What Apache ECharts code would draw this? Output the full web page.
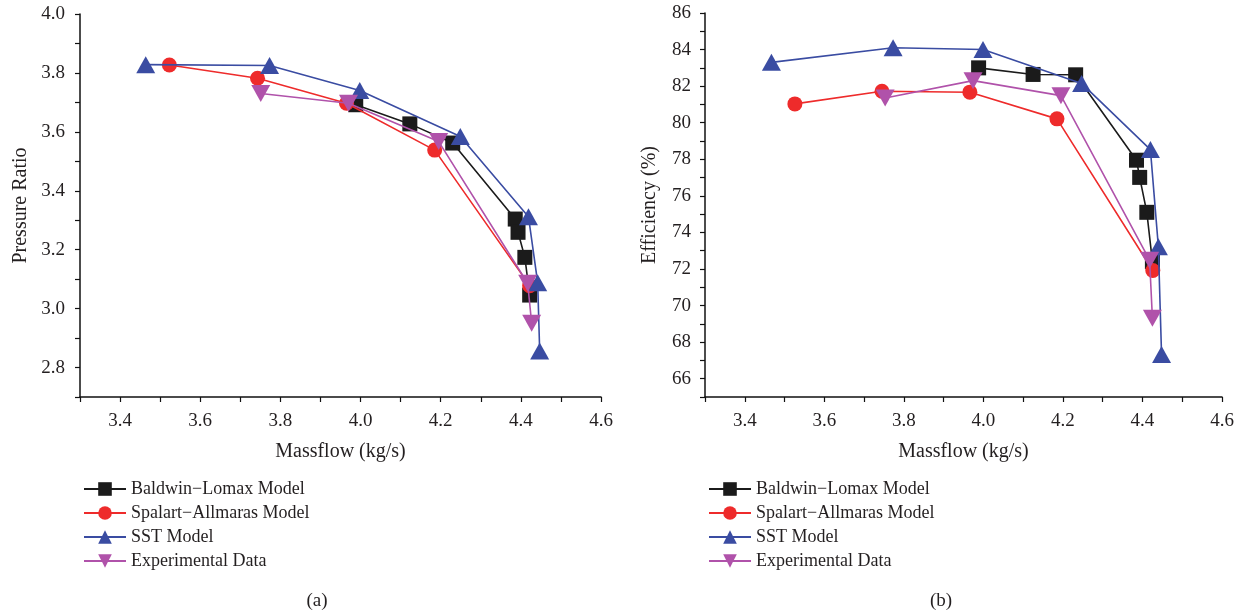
<!DOCTYPE html>
<html>
<head>
<meta charset="utf-8">
<script src="https://cdn.jsdelivr.net/npm/echarts@6/dist/echarts.min.js"></script>
<style>
  html, body { margin: 0; padding: 0; background: #fff; }
  #chart { width: 1246px; height: 616px; }
</style>
</head>
<body>
<div id="chart"></div>
<script>
(function() {
  var names = ['Baldwin\u2212Lomax Model', 'Spalart\u2212Allmaras Model', 'SST Model', 'Experimental Data'];
  var colors = ['#1b1b1b', '#ee2b2b', '#3a4ca2', '#b052aa'];
  var symbols = ['rect', 'circle', 'triangle', 'path://M0,0 L10,0 L5,8.66 Z'];
  var sizes = [15, 15, [19, 17], [19, 17]];

  // (a) pressure ratio vs massflow
  var prBL = [[3.988, 3.692], [4.123, 3.627], [4.230, 3.562], [4.386, 3.304], [4.393, 3.259], [4.410, 3.174], [4.422, 3.046]];
  var prSA = [[3.523, 3.827], [3.743, 3.782], [3.965, 3.697], [4.185, 3.538], [4.422, 3.078]];
  var prSST = [[3.464, 3.828], [3.773, 3.825], [3.998, 3.740], [4.249, 3.584], [4.419, 3.312], [4.442, 3.088], [4.447, 2.856]];
  var prExp = [[3.751, 3.730], [3.970, 3.697], [4.195, 3.567], [4.417, 3.086], [4.427, 2.950]];

  // (b) efficiency vs massflow
  var efBL = [[3.988, 83.0], [4.125, 82.64], [4.232, 82.62], [4.385, 77.95], [4.393, 77.01], [4.411, 75.10], [4.425, 72.4]];
  var efSA = [[3.526, 81.03], [3.745, 81.72], [3.966, 81.67], [4.185, 80.21], [4.426, 71.92]];
  var efSST = [[3.467, 83.30], [3.773, 84.10], [3.999, 84.0], [4.247, 82.15], [4.420, 78.53], [4.440, 73.21], [4.448, 67.33]];
  var efExp = [[3.753, 81.35], [3.974, 82.30], [4.195, 81.48], [4.418, 72.48], [4.425, 69.30]];

  var font = '"Liberation Serif", "DejaVu Serif", serif';
  var ink = '#231f20';

  function xAxis(idx) {
    return {
      type: 'value', gridIndex: idx, min: 3.3, max: 4.6, interval: 0.1,
      name: 'Massflow (kg/s)', nameLocation: 'middle', nameGap: 45,
      nameTextStyle: { color: ink, fontFamily: font, fontSize: 20 },
      axisLine: { lineStyle: { color: '#111', width: 1.5 } },
      axisTick: { inside: false, length: 5, lineStyle: { color: '#111', width: 1.2 } },
      axisLabel: {
        color: ink, fontFamily: font, fontSize: 19, margin: 15,
        formatter: function(v) { return Math.round(v * 10) % 2 === 0 ? v.toFixed(1) : ''; }
      },
      splitLine: { show: false }
    };
  }

  var chart = echarts.init(document.getElementById('chart'));
  var series = [];
  var sets = [[prBL, prSA, prSST, prExp], [efBL, efSA, efSST, efExp]];
  sets.forEach(function(group, g) {
    group.forEach(function(data, i) {
      series.push({
        type: 'line', name: names[i], xAxisIndex: g, yAxisIndex: g,
        data: data, symbol: symbols[i], symbolSize: sizes[i],
        lineStyle: { color: colors[i], width: 1.6 },
        itemStyle: { color: colors[i] },
        z: 2 + i
      });
    });
  });

  function legend(left) {
    return {
      data: names, orient: 'vertical', left: left, top: 475,
      itemWidth: 42, itemHeight: 17, itemGap: 6,
      textStyle: { color: ink, fontFamily: font, fontSize: 18 }
    };
  }

  chart.setOption({
    animation: false,
    backgroundColor: '#fff',
    grid: [
      { left: 80, right: 645, top: 14, bottom: 219 },
      { left: 705, right: 24, top: 13, bottom: 219 }
    ],
    xAxis: [xAxis(0), xAxis(1)],
    yAxis: [{
      type: 'value', gridIndex: 0, min: 2.7, max: 4.0, interval: 0.1,
      name: 'Pressure Ratio', nameLocation: 'middle', nameGap: 49,
      nameTextStyle: { color: ink, fontFamily: font, fontSize: 20 },
      axisLine: { show: true, lineStyle: { color: '#111', width: 1.5 } },
      axisTick: { show: true, length: 5, lineStyle: { color: '#111', width: 1.2 } },
      axisLabel: {
        color: ink, fontFamily: font, fontSize: 19, margin: 15,
        formatter: function(v) { return Math.round(v * 10) % 2 === 0 ? v.toFixed(1) : ''; }
      },
      splitLine: { show: false }
    }, {
      type: 'value', gridIndex: 1, min: 65, max: 86, interval: 1,
      name: 'Efficiency (%)', nameLocation: 'middle', nameGap: 45,
      nameTextStyle: { color: ink, fontFamily: font, fontSize: 20 },
      axisLine: { show: true, lineStyle: { color: '#111', width: 1.5 } },
      axisTick: { show: true, length: 5, lineStyle: { color: '#111', width: 1.2 } },
      axisLabel: {
        color: ink, fontFamily: font, fontSize: 19, margin: 14,
        formatter: function(v) { return Math.round(v) % 2 === 0 ? String(Math.round(v)) : ''; }
      },
      splitLine: { show: false }
    }],
    legend: [legend(78), legend(703)],
    title: [
      { text: '(a)', left: 312, top: 587, textAlign: 'center', textStyle: { color: ink, fontFamily: font, fontSize: 19, fontWeight: 'normal' } },
      { text: '(b)', left: 936, top: 587, textAlign: 'center', textStyle: { color: ink, fontFamily: font, fontSize: 19, fontWeight: 'normal' } }
    ],
    series: series
  });
})();
</script>
</body>
</html>
